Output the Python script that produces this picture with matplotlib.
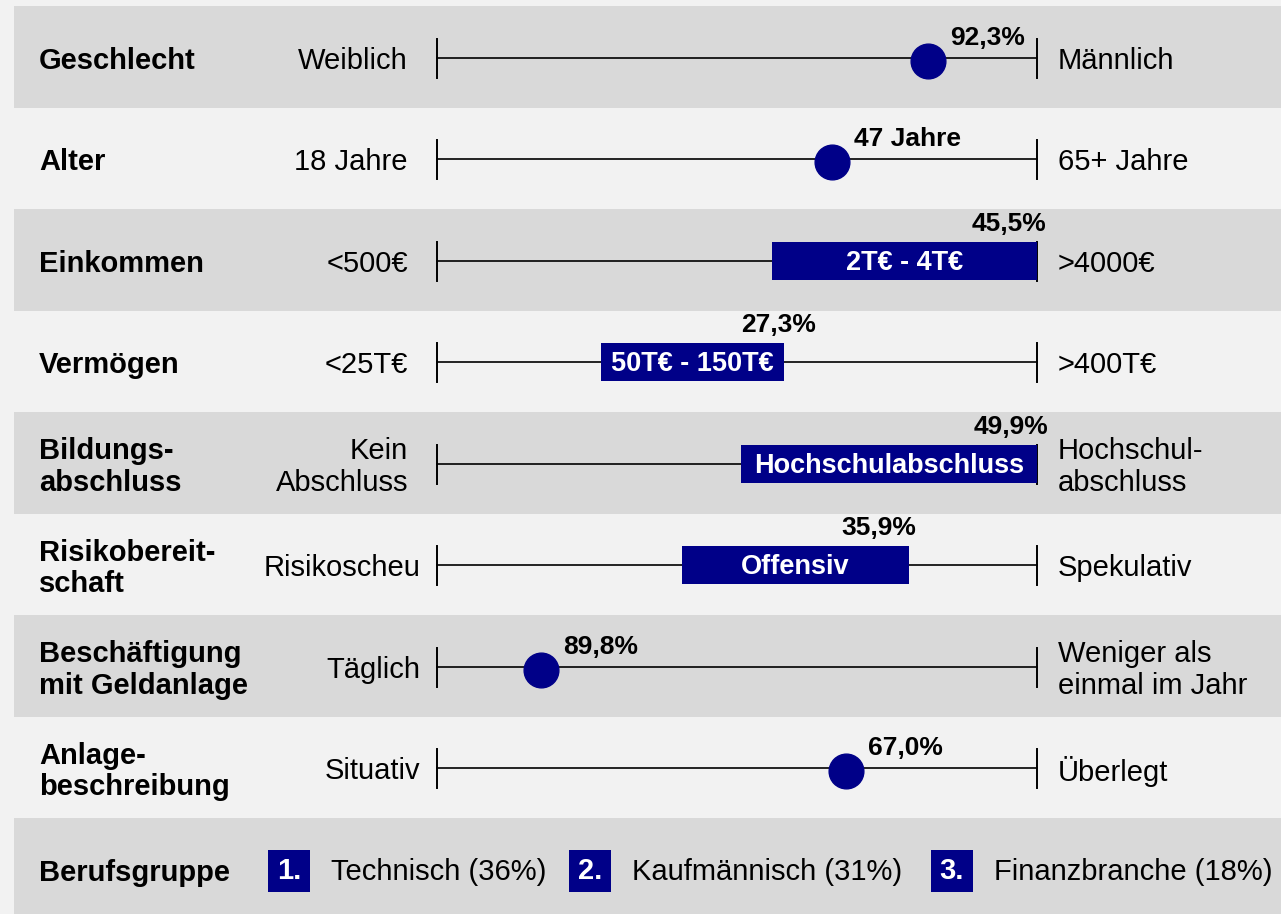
import matplotlib.pyplot as plt
from matplotlib.patches import Rectangle

plt.rcParams['font.family'] = ['Liberation Sans', 'DejaVu Sans']

NAVY = '#000088'
BAND = '#D9D9D9'
BG = '#F2F2F2'

# row definitions (top to bottom)
categories = ['Geschlecht', 'Alter', 'Einkommen', 'Vermögen', 'Bildungs-\nabschluss',
              'Risikobereit-\nschaft', 'Beschäftigung\nmit Geldanlage', 'Anlage-\nbeschreibung']
left_labels = ['Weiblich', '18 Jahre', '<500€', '<25T€', 'Kein\nAbschluss',
               'Risikoscheu', 'Täglich', 'Situativ']
right_labels = ['Männlich', '65+ Jahre', '>4000€', '>400T€', 'Hochschul-\nabschluss',
                'Spekulativ', 'Weniger als\neinmal im Jahr', 'Überlegt']

# dot rows: position on the 0-100 scale
dot_rows = [0, 1, 6, 7]
dot_pos = [81.8, 65.8, 17.3, 68.2]
dot_labels = ['92,3%', '47 Jahre', '89,8%', '67,0%']

# bar rows: range on the 0-100 scale
bar_rows = [2, 3, 4, 5]
bar_start = [55.8, 27.3, 50.7, 40.8]
bar_end = [100.0, 57.8, 100.0, 78.7]
bar_texts = ['2T€ - 4T€', '50T€ - 150T€', 'Hochschulabschluss', 'Offensiv']
bar_labels = ['45,5%', '27,3%', '49,9%', '35,9%']

groups = ['Technisch (36%)', 'Kaufmännisch (31%)', 'Finanzbranche (18%)']

# layout helpers: scale 0..100 spans pixels 437..1037, rows are 101.5 px apart
X0, PXU = 437, 6.0
ROW0, ROWH = 58, 101.5


def px(x):
    return (x - X0) / PXU


def pr(p):
    return p / ROWH


fig = plt.figure(figsize=(12.81, 9.14), dpi=100, facecolor=BG)
ax = fig.add_axes([0, 0, 1, 1])
ax.set_facecolor(BG)
ax.set_xlim(px(0), px(1281))
ax.set_ylim((914 - ROW0) / ROWH, (0 - ROW0) / ROWH)
ax.axis('off')

n_rows = len(categories) + 1
for r in range(0, n_rows, 2):
    ax.add_patch(Rectangle((px(14), r - 0.5 - pr(1)), px(1290) - px(14), 1.0,
                           facecolor=BAND, edgecolor='none', zorder=0))

for r, (cat, ll, rl) in enumerate(zip(categories, left_labels, right_labels)):
    ax.text(px(39), r + pr(3), cat, fontsize=21, fontweight='bold',
            ha='left', va='center', linespacing=1.15)
    lx = 420 if r in (5, 6, 7) else 408
    ax.text(px(lx), r + pr(3), ll, fontsize=21, ha='right', va='center',
            multialignment='right', linespacing=1.15)
    ax.text(px(1058), r + pr(3), rl, fontsize=21, ha='left', va='center',
            linespacing=1.15)
    ax.plot([0, 100], [r, r], color='black', lw=1.2, zorder=2)
    for e in (0, 100):
        ax.plot([e, e], [r - pr(19), r + pr(20)], color='black', lw=1.4, zorder=2)

for r, v, lab in zip(dot_rows, dot_pos, dot_labels):
    ax.plot(v, r + pr(3), 'o', ms=25, color=NAVY, zorder=4)
    ax.text(v + 22 / PXU, r - pr(20), lab, fontsize=19, fontweight='bold',
            ha='left', va='center', zorder=5)

label_dx = [9, 32, 11, 7]
for r, s, e, txt, lab, dx in zip(bar_rows, bar_start, bar_end, bar_texts, bar_labels, label_dx):
    ax.barh(r, e - s, left=s, height=pr(38), color=NAVY, zorder=3)
    ax.text((s + e) / 2, r + pr(2), txt, fontsize=19.5, fontweight='bold',
            color='white', ha='center', va='center', zorder=5)
    ax.text(e + dx / PXU, r - pr(37), lab, fontsize=19, fontweight='bold',
            ha='right', va='center', zorder=5)

# Berufsgruppe row
r = n_rows - 1
ax.text(px(39), r + pr(3), 'Berufsgruppe', fontsize=21, fontweight='bold',
        ha='left', va='center')
box_x = [268, 569, 931]
for i, (bx, g) in enumerate(zip(box_x, groups)):
    ax.add_patch(Rectangle((px(bx), r - pr(20)), 42 / PXU, pr(42),
                           facecolor=NAVY, edgecolor='none', zorder=3))
    ax.text(px(bx + 21), r + pr(1), f'{i + 1}.', fontsize=21, fontweight='bold',
            color='white', ha='center', va='center', zorder=4)
    ax.text(px(bx + 63), r + pr(2), g, fontsize=21, ha='left', va='center')

fig.savefig('out.png', dpi=100, facecolor=BG)
